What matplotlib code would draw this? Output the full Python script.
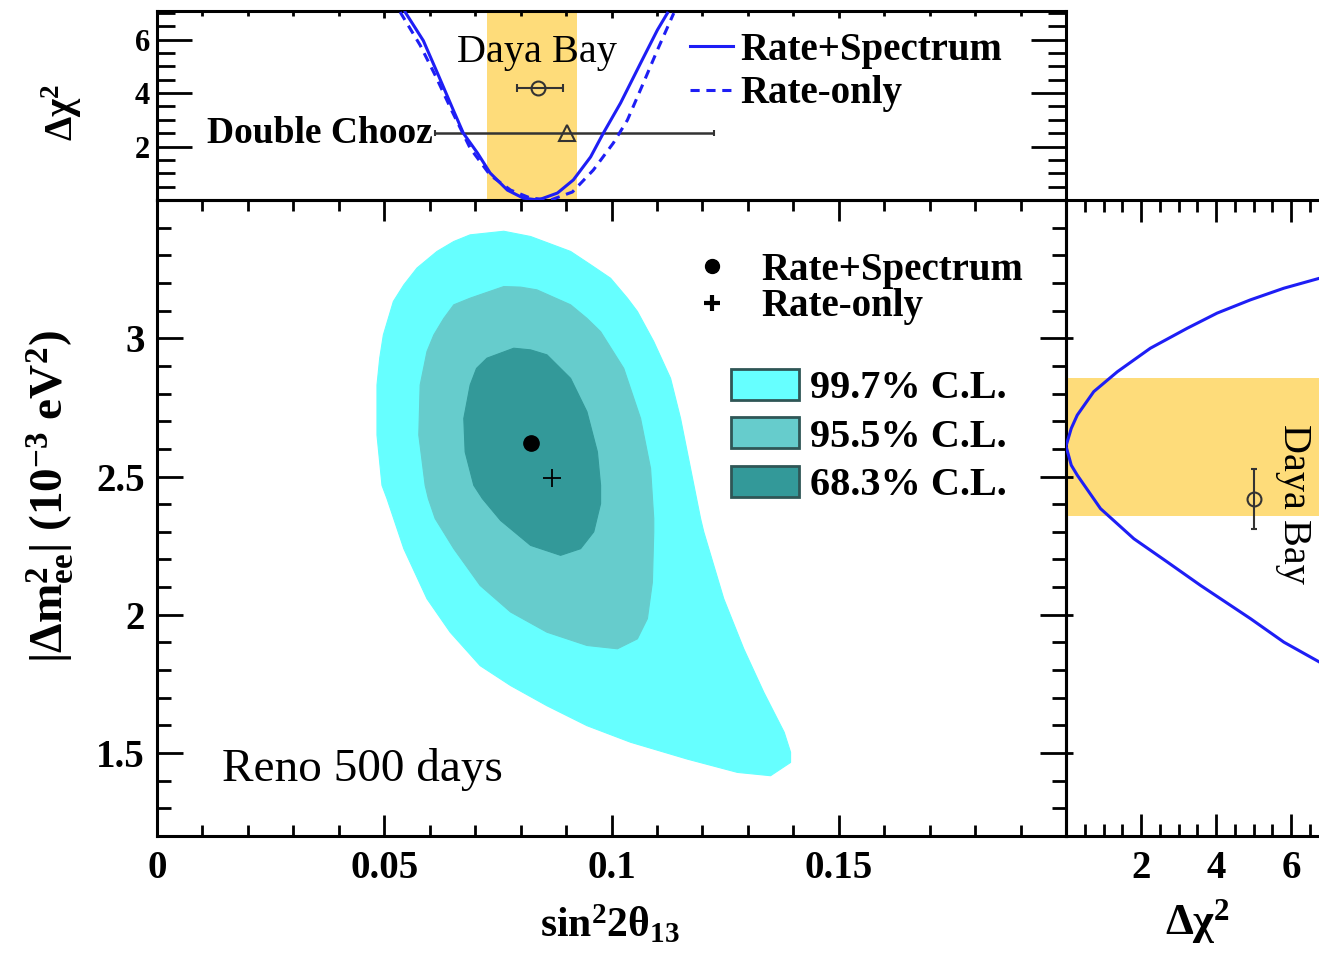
import numpy as np
import matplotlib
matplotlib.use('Agg')
import matplotlib.pyplot as plt
from matplotlib.ticker import MultipleLocator
from matplotlib.lines import Line2D
from matplotlib.patches import Patch

plt.rcParams['font.family'] = ['Liberation Serif', 'DejaVu Serif']
plt.rcParams['mathtext.fontset'] = 'custom'
plt.rcParams['mathtext.rm'] = 'Liberation Serif:bold'
plt.rcParams['mathtext.it'] = 'Liberation Serif:bold'
plt.rcParams['mathtext.bf'] = 'Liberation Serif:bold'
plt.rcParams['mathtext.default'] = 'rm'

# ---------------- data ----------------
# allowed regions in (sin^2 2theta13, |dm2_ee| [1e-3 eV^2])
cl_labels = ['99.7% C.L.', '95.5% C.L.', '68.3% C.L.']
cl_colors = ['#66FFFF', '#66CCCC', '#339999']

outer_x = [0.0763, 0.0822, 0.0910, 0.0954, 0.0998, 0.1035, 0.1057, 0.1093, 0.1130, 0.1152,
           0.1174, 0.1196, 0.1203, 0.1225, 0.1247, 0.1291, 0.1335, 0.1380, 0.1394, 0.1394,
           0.1350, 0.1277, 0.1167, 0.1042, 0.0946, 0.0858, 0.0778, 0.0711, 0.0645, 0.0594,
           0.0543, 0.0506, 0.0495, 0.0484, 0.0484, 0.0490, 0.0498, 0.0520, 0.0543, 0.0572,
           0.0616, 0.0653, 0.0689]
outer_y = [3.387, 3.368, 3.314, 3.266, 3.217, 3.145, 3.097, 2.988, 2.855, 2.710,
           2.529, 2.348, 2.300, 2.179, 2.058, 1.877, 1.720, 1.575, 1.503, 1.466,
           1.418, 1.430, 1.478, 1.539, 1.599, 1.671, 1.744, 1.816, 1.937, 2.058,
           2.239, 2.420, 2.468, 2.650, 2.831, 2.928, 3.012, 3.133, 3.193, 3.254,
           3.314, 3.350, 3.374]

mid_x = [0.0763, 0.0800, 0.0836, 0.0910, 0.0946, 0.0976, 0.1027, 0.1064, 0.1086, 0.1093,
         0.1093, 0.1090, 0.1079, 0.1057, 0.1013, 0.0946, 0.0858, 0.0778, 0.0711, 0.0653,
         0.0612, 0.0597, 0.0590, 0.0576, 0.0579, 0.0594, 0.0609, 0.0631, 0.0653, 0.0689]
mid_y = [3.187, 3.185, 3.175, 3.121, 3.072, 3.024, 2.891, 2.710, 2.529, 2.348,
         2.300, 2.118, 1.986, 1.913, 1.877, 1.889, 1.937, 2.010, 2.106, 2.239,
         2.348, 2.420, 2.468, 2.650, 2.831, 2.952, 3.012, 3.072, 3.121, 3.145]

inner_x = [0.0785, 0.0822, 0.0858, 0.0910, 0.0946, 0.0969, 0.0976, 0.0976, 0.0961, 0.0932,
           0.0888, 0.0822, 0.0756, 0.0716, 0.0697, 0.0678, 0.0675, 0.0689, 0.0703, 0.0726]
inner_y = [2.964, 2.958, 2.940, 2.855, 2.734, 2.589, 2.468, 2.402, 2.300, 2.239,
           2.215, 2.251, 2.341, 2.420, 2.468, 2.589, 2.710, 2.831, 2.891, 2.928]

best_rs_x, best_rs_y = [0.0822], [2.620]   # Rate+Spectrum best fit
best_ro_x, best_ro_y = [0.0870], [2.493]   # Rate-only best fit

# top panel: delta chi2 vs sin^2 2theta13
s2t_rs = [0.0546, 0.0586, 0.0617, 0.0652, 0.0674, 0.0705, 0.0733, 0.0771, 0.0806, 0.0839,
          0.0881, 0.0916, 0.0954, 0.0982, 0.1020, 0.1064, 0.1101, 0.1123]
chi2_rs = [7.03, 5.96, 4.75, 3.36, 2.50, 1.76, 1.01, 0.37, 0.07, 0.0,
           0.26, 0.75, 1.61, 2.50, 3.63, 5.12, 6.36, 6.99]
s2t_ro = [0.0535, 0.0579, 0.0612, 0.0650, 0.0689, 0.0733, 0.0778, 0.0822, 0.0866, 0.0914,
          0.0960, 0.1004, 0.1035, 0.1070, 0.1101, 0.1137]
chi2_ro = [7.03, 5.79, 4.67, 3.29, 1.94, 0.93, 0.37, 0.07, 0.0, 0.30,
           1.12, 2.13, 2.99, 4.37, 5.61, 6.99]
dyb_band_s2t = [0.0727, 0.0925]
dyb_s2t, dyb_s2t_lo, dyb_s2t_hi, dyb_chi2_pos = 0.0839, 0.0791, 0.0894, 4.19
dc_s2t, dc_s2t_lo, dc_s2t_hi, dc_chi2_pos = 0.0901, 0.0612, 0.1225, 2.5

# right panel: delta chi2 vs |dm2_ee|
chi2_dm = [6.76, 5.81, 4.92, 4.03, 3.23, 2.25, 1.37, 0.74, 0.30, 0.14, 0.0,
           0.14, 0.30, 0.92, 1.81, 2.70, 3.59, 4.92, 5.81, 6.76]
dm_prof = [3.217, 3.181, 3.139, 3.091, 3.036, 2.964, 2.879, 2.807, 2.722, 2.674, 2.610,
           2.541, 2.505, 2.384, 2.275, 2.191, 2.106, 1.986, 1.901, 1.829]
dyb_band_dm = [2.359, 2.855]
dyb_dm, dyb_dm_lo, dyb_dm_hi, dyb_dm_chi2_pos = 2.420, 2.312, 2.529, 5.0

xticks_main = [0, 0.05, 0.1, 0.15]
xticklabels_main = ['0', '0.05', '0.1', '0.15']
yticks_main = [1.5, 2, 2.5, 3]
yticklabels_main = ['1.5', '2', '2.5', '3']
yticks_top = [2, 4, 6]
xticks_right = [2, 4, 6]

# ---------------- figure ----------------
W, H = 1319, 960
fig = plt.figure(figsize=(W / 100, H / 100), dpi=100)


def fx(px):
    return px / W


def fy(py):
    return 1 - py / H


ax = fig.add_axes([fx(157), fy(836), fx(1066) - fx(157), fy(200) - fy(836)])
axt = fig.add_axes([fx(157), fy(200), fx(1066) - fx(157), fy(11) - fy(200)], sharex=ax)
axr = fig.add_axes([fx(1066), fy(836), 300 / W, fy(200) - fy(836)], sharey=ax)

BAND = '#FEDC7A'
BLUE = '#1E1EF5'
for a in (ax, axt, axr):
    for s in a.spines.values():
        s.set_linewidth(2.2)
    a.set_facecolor('none')

# ---- main panel ----
for xs, ys, c in zip((outer_x, mid_x, inner_x), (outer_y, mid_y, inner_y), cl_colors):
    ax.fill(xs, ys, color=c, lw=0.8, ec=c, joinstyle='round', zorder=1)
ax.plot(best_rs_x, best_rs_y, 'o', color='black', ms=11, zorder=3)
ax.plot(best_ro_x, best_ro_y, '+', color='black', ms=13, mew=1.3, zorder=3)

ax.set_xlim(0, 0.2)
ax.set_ylim(1.2, 3.5)
ax.set_xticks(xticks_main, labels=xticklabels_main)
ax.set_yticks(yticks_main, labels=yticklabels_main)
ax.xaxis.set_minor_locator(MultipleLocator(0.01))
ax.yaxis.set_minor_locator(MultipleLocator(0.1))
ax.tick_params(which='both', direction='in', top=True, right=True, width=2.0)
ax.tick_params(axis='x', which='major', length=15, pad=10, labelsize=28)
ax.tick_params(axis='x', which='minor', length=8)
ax.tick_params(axis='y', which='major', length=19, pad=9, labelsize=28)
ax.tick_params(axis='y', which='minor', length=10)
for lab in ax.get_xticklabels() + ax.get_yticklabels():
    lab.set_fontweight('bold')

ax.set_xlabel(r'$\mathrm{sin}^{2}2\theta_{13}$', fontsize=30, va='center')
ax.xaxis.set_label_coords((610 - 157) / 909, -(925 - 836) / 636)
ax.set_ylabel(r'$|\Delta m^{2}_{ee}|$ (10$^{-3}$ eV$^{2}$)', fontsize=34,
              fontweight='bold', va='center')
ax.yaxis.set_label_coords((50 - 157) / 909, (836 - 497) / 636)

ax.text(0.0143, 1.442, 'Reno 500 days', fontsize=34, ha='left', va='center')

mk_handles = [Line2D([], [], ls='none', marker='o', color='black', ms=10),
              Line2D([], [], ls='none', marker='+', color='black', ms=11, mew=3)]
leg1 = ax.legend(mk_handles, ['Rate+Spectrum', 'Rate-only'], loc='upper left',
                 bbox_to_anchor=((693 - 157) / 909, 1 - (252 - 200) / 636),
                 frameon=False, borderpad=0, borderaxespad=0, handlelength=1.0,
                 handletextpad=0.75, labelspacing=-0.02,
                 prop={'family': 'Liberation Serif', 'weight': 'bold', 'size': 28})
ax.add_artist(leg1)
cl_handles = [Patch(facecolor=c, edgecolor='#2F5656', lw=2) for c in cl_colors]
ax.legend(cl_handles, cl_labels, loc='upper left',
          bbox_to_anchor=((731 - 157) / 909, 1 - (369 - 200) / 636),
          frameon=False, borderpad=0, borderaxespad=0, handlelength=1.7,
          handleheight=0.8, handletextpad=0.27, labelspacing=0.25,
          prop={'family': 'Liberation Serif', 'weight': 'bold', 'size': 29})

# ---- top panel ----
axt.axvspan(dyb_band_s2t[0], dyb_band_s2t[1], color=BAND, lw=0, zorder=0)
axt.errorbar([dc_s2t], [dc_chi2_pos], xerr=[[dc_s2t - dc_s2t_lo], [dc_s2t_hi - dc_s2t]],
             fmt='^', mfc='none', mec='#333333', ms=11, mew=1.5, color='#333333',
             elinewidth=1.8, capsize=2, capthick=3.5, zorder=2)
axt.plot(s2t_rs, chi2_rs, '-', color=BLUE, lw=2.2, label='Rate+Spectrum', zorder=3,
         solid_joinstyle='round')
axt.plot(s2t_ro, chi2_ro, color=BLUE, lw=2.2, ls=(0, (3, 2.2)), label='Rate-only', zorder=3)
axt.errorbar([dyb_s2t], [dyb_chi2_pos], xerr=[[dyb_s2t - dyb_s2t_lo], [dyb_s2t_hi - dyb_s2t]],
             fmt='o', mfc='none', mec='#333333', ms=10, mew=1.5, color='#333333',
             elinewidth=1.5, capsize=3, capthick=1.5, zorder=4)
axt.text(0.0837, 5.53, 'Daya Bay', fontsize=29, ha='center', va='center')
axt.text(dc_s2t_lo - 0.0005, dc_chi2_pos, 'Double Chooz', fontsize=27, fontweight='bold',
         ha='right', va='center')
axt.set_ylim(0, 7.07)
axt.set_yticks(yticks_top, labels=[str(v) for v in yticks_top])
axt.yaxis.set_minor_locator(MultipleLocator(0.5))
axt.tick_params(which='both', direction='in', top=True, bottom=False, right=True,
                labelbottom=False, width=2.0)
axt.tick_params(axis='x', which='major', length=5)
axt.tick_params(axis='x', which='minor', length=3.5)
axt.tick_params(axis='y', which='major', length=25, pad=5, labelsize=22)
axt.tick_params(axis='y', which='minor', length=13)
for lab in axt.get_yticklabels():
    lab.set_fontweight('bold')
axt.set_ylabel(r'$\Delta\chi^{2}$', fontsize=28, va='center')
axt.yaxis.set_label_coords((62 - 157) / 909, (200 - 112) / 189)
axt.legend(loc='upper left', bbox_to_anchor=((690 - 157) / 909, 1 - (32 - 11) / 189),
           frameon=False, borderpad=0, borderaxespad=0, handlelength=1.1,
           handletextpad=0.2, labelspacing=0.16,
           prop={'family': 'Liberation Serif', 'weight': 'bold', 'size': 28})

# ---- right panel ----
axr.axhspan(dyb_band_dm[0], dyb_band_dm[1], color=BAND, lw=0, zorder=0)
axr.plot(chi2_dm, dm_prof, '-', color=BLUE, lw=2.2, zorder=3, solid_joinstyle='round')
axr.errorbar([dyb_dm_chi2_pos], [dyb_dm], yerr=[[dyb_dm - dyb_dm_lo], [dyb_dm_hi - dyb_dm]],
             fmt='o', mfc='none', mec='#333333', ms=10, mew=1.5, color='#333333',
             elinewidth=1.5, capsize=2, capthick=3, zorder=4)
axr.text(6.07, 2.402, 'Daya Bay', fontsize=29, rotation=270, ha='center', va='center')
axr.set_xlim(0, 8)
axr.set_xticks(xticks_right, labels=[str(v) for v in xticks_right])
axr.xaxis.set_minor_locator(MultipleLocator(0.5))
axr.tick_params(which='both', direction='in', top=True, labelleft=False, width=2.0)
axr.tick_params(axis='x', which='major', length=16, pad=10, labelsize=28)
axr.tick_params(axis='x', which='minor', length=8.6)
axr.tick_params(axis='y', which='major', length=5)
axr.tick_params(axis='y', which='minor', length=0)
for lab in axr.get_xticklabels():
    lab.set_fontweight('bold')
axr.set_xlabel(r'$\Delta\chi^{2}$', fontsize=32, va='center')
axr.xaxis.set_label_coords((1197 - 1066) / 300, -(922 - 836) / 636)

fig.savefig('out.png', dpi=100)
